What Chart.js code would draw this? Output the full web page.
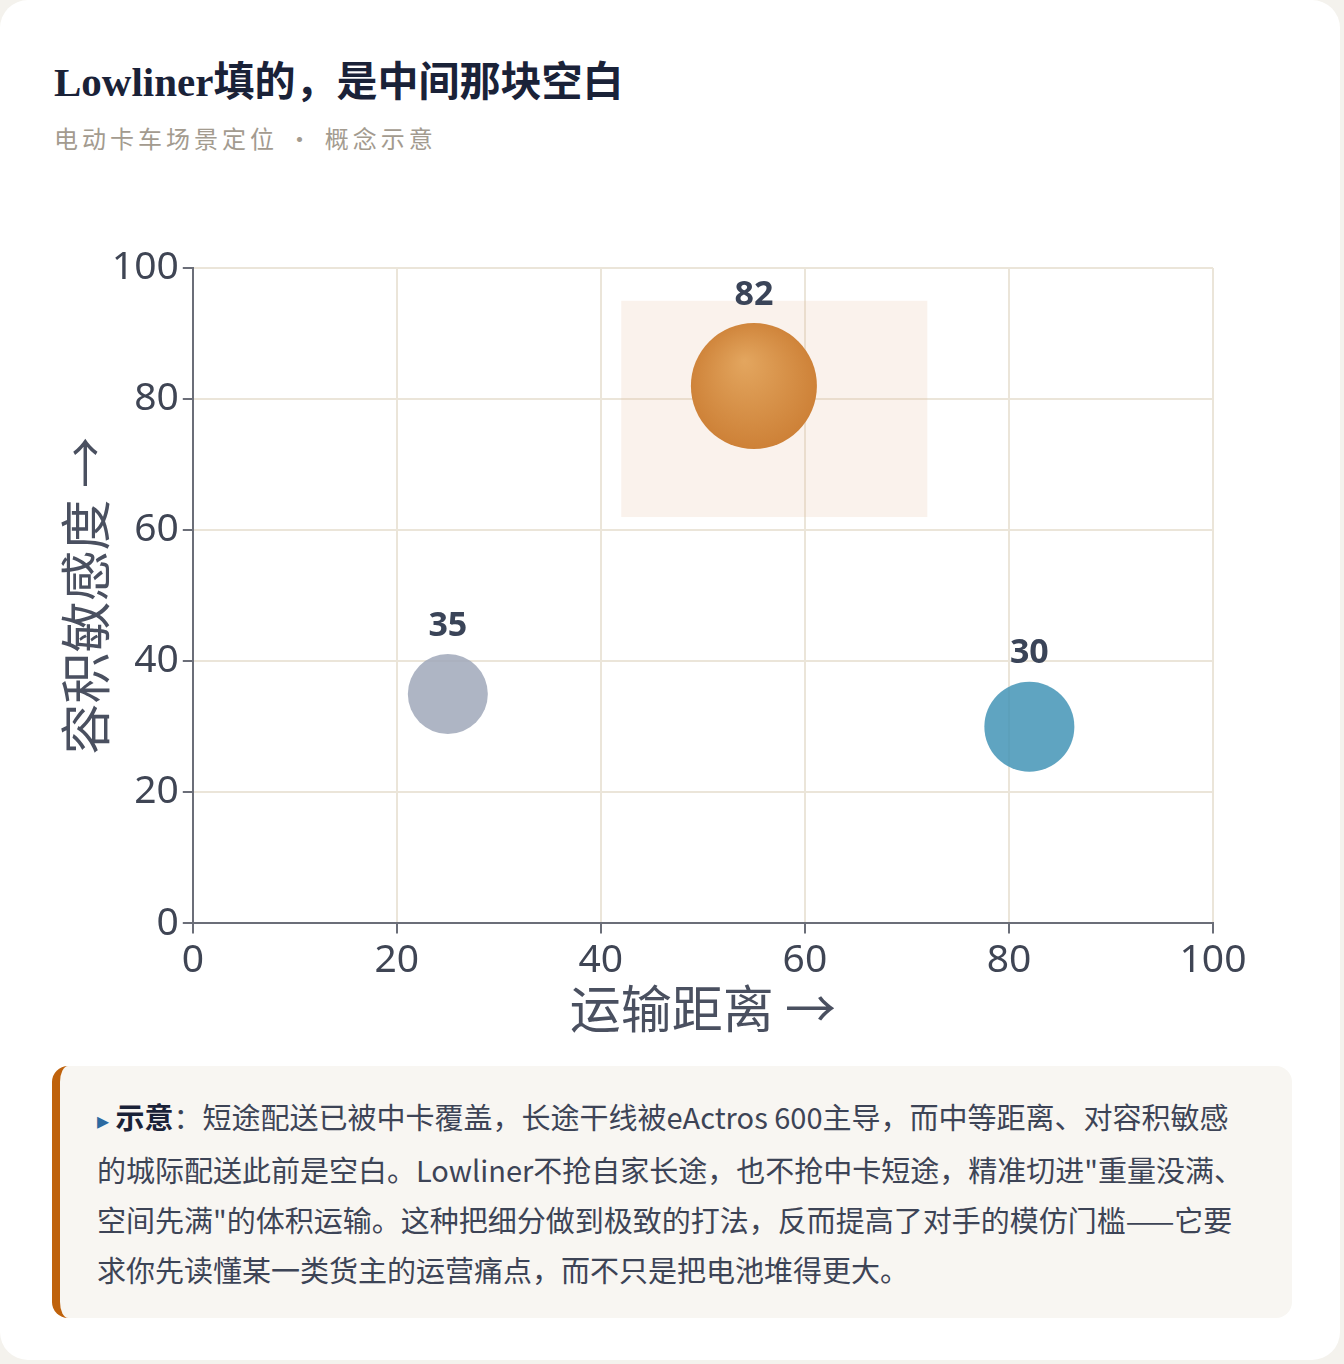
<!DOCTYPE html>
<html>
<head>
<meta charset="utf-8">
<script src="https://cdn.jsdelivr.net/npm/chart.js@4.4.1/dist/chart.umd.min.js"></script>
<style>
  html, body { margin: 0; padding: 0; background: #f4f2ed; }
  .card {
    position: absolute; left: 0; top: 0; width: 1340px; height: 1360px;
    background: #fff; border-radius: 28px;
  }
  h1 {
    position: absolute; left: 54px; top: 54px; margin: 0;
    font-family: "Liberation Serif", "Noto Sans CJK SC", serif;
    font-size: 41px; font-weight: bold; color: #1a2238; line-height: 56px;
  }
  .sub {
    position: absolute; left: 54px; top: 120px;
    font-family: "Noto Sans CJK SC", sans-serif; font-size: 24px;
    color: #a39b8f; letter-spacing: 4px;
  }
  .chart-wrap { position: absolute; left: 46px; top: 205px; width: 1230px; height: 840px; }
  .note {
    position: absolute; left: 52px; top: 1066px; width: 1240px; height: 252px;
    box-sizing: border-box; background: #f8f6f2; border-left: 8px solid #bf620c;
    border-radius: 16px; padding: 25px 40px 0 37px;
    font-family: "Noto Sans CJK SC", sans-serif; font-size: 29px; line-height: 50px; color: #3d4456;
  }
  .note .arrow { color: #2c6aa0; font-size: 24px; }
  .note b { color: #1a2238; }
</style>
</head>
<body>
<div class="card">
  <h1>Lowliner填的，是中间那块空白</h1>
  <div class="sub">电动卡车场景定位 · 概念示意</div>
  <div class="chart-wrap"><canvas id="c"></canvas></div>
  <div class="note"><span class="arrow">▸</span> <b>示意</b>：短途配送已被中卡覆盖，长途干线被eActros 600主导，而中等距离、对容积敏感的城际配送此前是空白。Lowliner不抢自家长途，也不抢中卡短途，精准切进"重量没满、空间先满"的体积运输。这种把细分做到极致的打法，反而提高了对手的模仿门槛——它要求你先读懂某一类货主的运营痛点，而不只是把电池堆得更大。</div>
</div>
<script>
const distance = [25, 55, 82];
const volumeSense = [35, 82, 30];
const bubbleRadius = [40, 63, 45];
const bubbleLabels = ['35', '82', '30'];
const bubbleColors = ['rgba(160,168,186,0.85)', 'orange', 'rgba(62,145,180,0.83)'];
const gapBox = { xMin: 42, xMax: 72, yMin: 62, yMax: 95 };

const gapBoxPlugin = {
  id: 'gapBox',
  beforeDatasetsDraw(chart) {
    const { ctx, scales: { x, y } } = chart;
    const x1 = x.getPixelForValue(gapBox.xMin), x2 = x.getPixelForValue(gapBox.xMax);
    const y1 = y.getPixelForValue(gapBox.yMax), y2 = y.getPixelForValue(gapBox.yMin);
    ctx.save();
    ctx.fillStyle = 'rgba(230,190,160,0.2)';
    ctx.fillRect(x1, y1, x2 - x1, y2 - y1);
    ctx.restore();
  }
};

const labelPlugin = {
  id: 'bubbleLabels',
  afterDatasetsDraw(chart) {
    const { ctx } = chart;
    const meta = chart.getDatasetMeta(0);
    ctx.save();
    ctx.font = 'bold 34px "Noto Sans", sans-serif';
    ctx.fillStyle = '#3a4458';
    ctx.textAlign = 'center';
    ctx.textBaseline = 'middle';
    meta.data.forEach((el, i) => {
      ctx.fillText(bubbleLabels[i], el.x, el.y - bubbleRadius[i] - 28);
    });
    ctx.restore();
  }
};

const points = distance.map((d, i) => ({ x: d, y: volumeSense[i], r: bubbleRadius[i] }));

new Chart(document.getElementById('c'), {
  type: 'bubble',
  data: {
    datasets: [{
      data: points,
      borderWidth: 0,
      backgroundColor(context) {
        const i = context.dataIndex;
        if (bubbleColors[i] !== 'orange') return bubbleColors[i];
        const chart = context.chart;
        const sx = chart.scales.x, sy = chart.scales.y;
        const cx = sx ? sx.getPixelForValue(distance[i]) : NaN;
        const cy = sy ? sy.getPixelForValue(volumeSense[i]) : NaN;
        if (!isFinite(cx) || !isFinite(cy)) return '#d58a3f';
        const r = bubbleRadius[i];
        const g = chart.ctx.createRadialGradient(cx - 0.15 * r, cy - 0.4 * r, 0, cx, cy, r * 1.15);
        g.addColorStop(0, '#e3a65f');
        g.addColorStop(1, '#cb7d33');
        return g;
      },
      hoverRadius: 0,
    }]
  },
  options: {
    responsive: true,
    maintainAspectRatio: false,
    animation: false,
    layout: { padding: { left: 18, right: 44, top: 41, bottom: 16 } },
    plugins: {
      legend: { display: false },
      tooltip: { enabled: false },
    },
    scales: {
      x: {
        min: 0, max: 100,
        ticks: { stepSize: 20, color: '#3f4554', font: { size: 39, family: 'Noto Sans' }, padding: 4 },
        grid: { color: '#ebe5d9', lineWidth: 2, tickLength: 10, tickColor: '#6b6e78' },
        border: { color: '#6b6e78', width: 2 },
        title: { display: true, text: '运输距离 →', color: '#4a5060', font: { size: 51, family: 'Noto Sans CJK SC', lineHeight: 0.8 }, padding: 0 },
      },
      y: {
        min: 0, max: 100,
        ticks: { stepSize: 20, color: '#3f4554', font: { size: 39, family: 'Noto Sans' }, padding: 4 },
        grid: { color: '#ebe5d9', lineWidth: 2, tickLength: 10, tickColor: '#6b6e78' },
        border: { color: '#6b6e78', width: 2 },
        title: { display: true, text: '容积敏感度 →', color: '#4a5060', font: { size: 51, family: 'Noto Sans CJK SC', lineHeight: 0.86 }, padding: 0 },
      }
    }
  },
  plugins: [gapBoxPlugin, labelPlugin]
});
</script>
</body>
</html>
